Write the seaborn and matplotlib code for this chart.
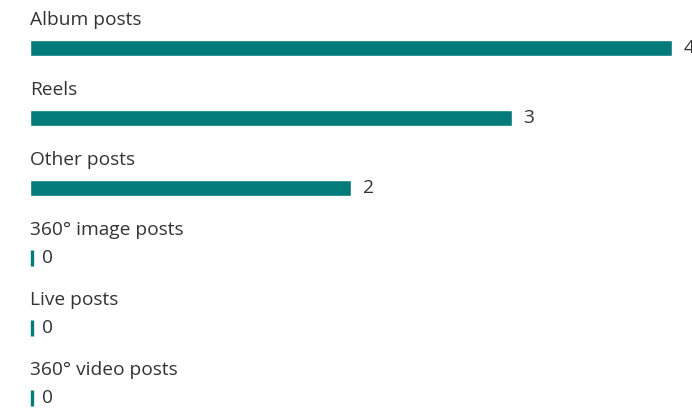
import pandas as pd
import seaborn as sns
import matplotlib.pyplot as plt

# Post type counts
categories = ['Album posts', 'Reels', 'Other posts', '360° image posts', 'Live posts', '360° video posts']
counts = [4, 3, 2, 0, 0, 0]

df = pd.DataFrame({'Type': categories, 'Count': counts})

sns.set_style('white')
plt.rcParams['font.family'] = ['Open Sans', 'DejaVu Sans']

teal = '#037b7b'
text_color = '#333333'

fig = plt.figure(figsize=(6.92, 4.11), dpi=100)
ax = fig.add_axes([0, 0, 1, 1])

sns.barplot(data=df, x='Count', y='Type', orient='h', color=teal, width=0.24,
            saturation=1, ax=ax)

# 1 data unit = 160.5 px horizontally, 1 category = 70 px vertically
ax.set_xlim(-30 / 160.5, 662 / 160.5)
ax.set_ylim(5 + 13 / 70, -48 / 70)

fs = 13.8
for i, (name, value) in enumerate(zip(categories, counts)):
    # category name above the bar
    ax.text(0, i - 28 / 70, name, ha='left', va='center', fontsize=fs, color=text_color)
    if value == 0:
        # tiny stub for zero bars
        ax.plot([0.012], [i], marker='|', markersize=11, markeredgewidth=2.4, color=teal)
        ax.text(0.075, i, str(value), ha='left', va='center', fontsize=fs, color=text_color)
    else:
        # the reference crops the largest value label at the right edge
        ax.text(value + 0.075, i, str(value), ha='left', va='center', fontsize=fs, color=text_color)

ax.axis('off')
fig.savefig('out.png', dpi=100)
